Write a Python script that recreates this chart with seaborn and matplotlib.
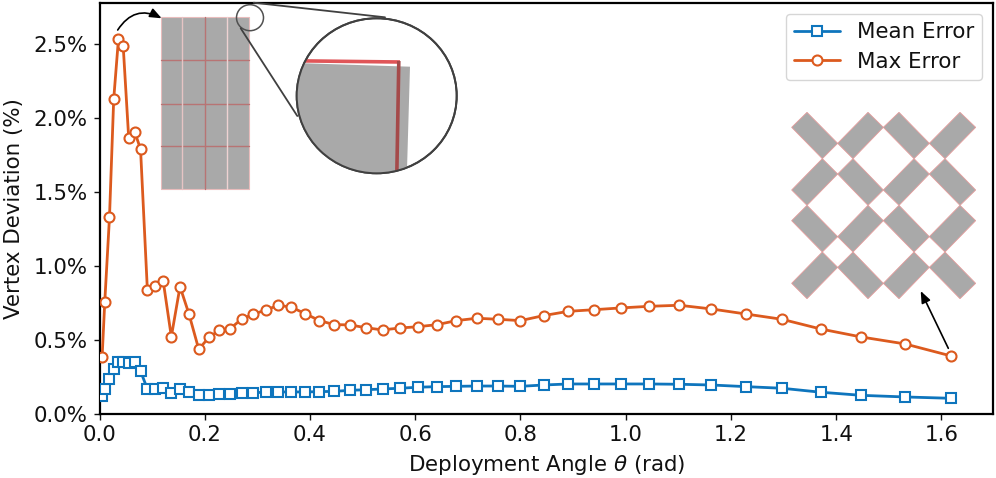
import numpy as np
import pandas as pd
import seaborn as sns
import matplotlib
matplotlib.use('Agg')
import matplotlib.pyplot as plt
from matplotlib.patches import Polygon, Ellipse, FancyArrowPatch, Rectangle
from matplotlib.ticker import PercentFormatter

#########################
#         Data          #
#########################

theta = [0.005, 0.010, 0.019, 0.027, 0.036, 0.045, 0.0555, 0.067, 0.078, 0.091,
         0.106, 0.121, 0.1365, 0.153, 0.170, 0.1886, 0.208, 0.228, 0.2487, 0.270,
         0.292, 0.316, 0.340, 0.3646, 0.391, 0.418, 0.446, 0.476, 0.506, 0.538,
         0.571, 0.606, 0.642, 0.678, 0.717, 0.758, 0.800, 0.844, 0.891, 0.940,
         0.991, 1.045, 1.102, 1.163, 1.228, 1.297, 1.371, 1.448, 1.531, 1.618]

mean_error = [0.121, 0.166, 0.232, 0.299, 0.347, 0.347, 0.342, 0.347, 0.287, 0.166,
              0.166, 0.173, 0.139, 0.168, 0.146, 0.123, 0.127, 0.132, 0.132, 0.139,
              0.141, 0.144, 0.146, 0.146, 0.146, 0.148, 0.150, 0.157, 0.161, 0.166,
              0.171, 0.178, 0.182, 0.184, 0.186, 0.186, 0.184, 0.193, 0.200, 0.200,
              0.200, 0.200, 0.198, 0.193, 0.182, 0.171, 0.144, 0.123, 0.112, 0.103]

max_error = [0.385, 0.755, 1.331, 2.129, 2.535, 2.490, 1.865, 1.907, 1.790, 0.835,
             0.864, 0.898, 0.520, 0.859, 0.674, 0.435, 0.516, 0.564, 0.575, 0.640,
             0.672, 0.701, 0.733, 0.720, 0.676, 0.629, 0.602, 0.600, 0.581, 0.566,
             0.579, 0.588, 0.602, 0.629, 0.645, 0.638, 0.629, 0.663, 0.692, 0.703,
             0.715, 0.726, 0.733, 0.708, 0.674, 0.638, 0.572, 0.518, 0.471, 0.390]

x_ticks = [0.0, 0.2, 0.4, 0.6, 0.8, 1.0, 1.2, 1.4, 1.6]
y_ticks = [0.0, 0.5, 1.0, 1.5, 2.0, 2.5]

BLUE = '#0e75bd'
ORANGE = '#dc5a1e'
GRAY = '#a9a9a9'
PINK = '#e59c9c'
DARK_RED = '#b87474'

#########################
#       Main plot       #
#########################

W, H = 996, 478
FS = 15.4
sns.set_style('ticks', {'text.color': '#111111', 'axes.labelcolor': '#111111',
                        'xtick.color': '#111111', 'ytick.color': '#111111'})
fig = plt.figure(figsize=(W / 100, H / 100), dpi=100)
ax = fig.add_axes([99.5 / W, 1 - 413.5 / H, (993 - 99.5) / W, (413.5 - 3) / H])

df = pd.DataFrame({'theta': theta, 'Mean Error': mean_error, 'Max Error': max_error})
sns.lineplot(data=df, x='theta', y='Mean Error', ax=ax, color=BLUE, marker='s', markersize=6.8,
             markerfacecolor='white', markeredgecolor=BLUE, markeredgewidth=1.5,
             linewidth=2.0, label='Mean Error', zorder=3)
sns.lineplot(data=df, x='theta', y='Max Error', ax=ax, color=ORANGE, marker='o', markersize=7.2,
             markerfacecolor='white', markeredgecolor=ORANGE, markeredgewidth=1.5,
             linewidth=2.0, label='Max Error', zorder=3)

ax.set_xlim(0, 1.698)
ax.set_ylim(0, 2.78)
ax.set_xticks(x_ticks)
ax.set_yticks(y_ticks)
ax.yaxis.set_major_formatter(PercentFormatter(decimals=1))
ax.tick_params(labelsize=FS, length=4, width=1, pad=4.5)
ax.set_xlabel(r'Deployment Angle $\theta$ (rad)', fontsize=FS, labelpad=5.5)
ax.set_ylabel('Vertex Deviation (%)', fontsize=FS, labelpad=7)
for s in ax.spines.values():
    s.set_visible(True)
    s.set_linewidth(1.6)
    s.set_color('black')
ax.legend(loc='upper right', fontsize=FS, handlelength=2.15, handletextpad=0.75,
          borderaxespad=0.5, labelspacing=0.45)

#########################
#  Insets (pixel space) #
#########################

over = fig.add_axes([0, 0, 1, 1], zorder=5)
over.set_xlim(0, W)
over.set_ylim(H, 0)
over.axis('off')

# folded sheet at small angle
over.add_patch(Rectangle((160.7, 17.3), 88, 172, facecolor=GRAY, edgecolor='#e8bcbc', linewidth=0.8))
for y in [60.3, 103.7, 146.4]:
    over.plot([160.7, 248.7], [y, y], color=DARK_RED, linewidth=1.0)
for x, c in [(182.3, '#e6c4c4'), (204.6, DARK_RED), (226.6, '#eed2d2')]:
    over.plot([x, x], [17.3, 189.3], color=c, linewidth=1.0)

# zoom circles
over.add_patch(Ellipse((250, 17.7), 27, 26, fill=False, edgecolor='#505050', linewidth=1.1))
big = Ellipse((376.7, 95.8), 160, 155, facecolor='white', edgecolor='#404040', linewidth=1.4, zorder=4)
over.add_patch(big)
gray = Polygon([(280, 62.5), (410, 66.7), (406.7, 180), (280, 180)], facecolor=GRAY, edgecolor='none', zorder=4.1)
over.add_patch(gray)
gray.set_clip_path(big)
red_h, = over.plot([295, 400], [60.8, 62], color='#e05558', linewidth=2.6, zorder=4.2, solid_capstyle='butt')
red_h.set_clip_path(big)
red_v, = over.plot([398.8, 396.8], [61, 175], color='#a54a4a', linewidth=2.6, zorder=4.3, solid_capstyle='butt')
red_v.set_clip_path(big)
over.add_patch(Ellipse((376.7, 95.8), 160, 155, fill=False, edgecolor='#404040', linewidth=1.4, zorder=4.4))
over.plot([253.7, 385], [2.7, 17.3], color='#404040', linewidth=1.3, zorder=4.4)
over.plot([240.7, 297.3], [28.3, 116], color='#404040', linewidth=1.3, zorder=4.4)

# deployed pattern, corners
tiles = [
    [(65, 112), (111, 67), (203, 160), (157, 206)], [(294, 67), (340, 112), (249, 206), (203, 160)],
    [(387, 67), (478, 160), (432, 206), (340, 112)], [(570, 67), (617, 112), (525, 206), (478, 160)],
    [(157, 206), (203, 252), (111, 346), (65, 300)], [(249, 206), (340, 300), (294, 346), (203, 252)],
    [(432, 206), (478, 252), (387, 346), (340, 300)], [(525, 206), (617, 300), (570, 346), (478, 252)],
    [(111, 346), (203, 440), (157, 486), (65, 392)], [(294, 346), (340, 392), (249, 486), (203, 440)],
    [(387, 346), (478, 440), (432, 486), (340, 392)], [(570, 346), (617, 392), (525, 486), (478, 440)],
    [(157, 486), (203, 532), (111, 626), (65, 580)], [(249, 486), (340, 580), (294, 626), (203, 532)],
    [(432, 486), (478, 532), (387, 626), (340, 580)], [(525, 486), (617, 580), (570, 626), (478, 532)],
]
for t in tiles:
    pts = [(770 + a / 3, 90 + b / 3) for a, b in t]
    over.add_patch(Polygon(pts, closed=True, facecolor=GRAY, edgecolor=PINK, linewidth=0.6))

# arrows
over.add_patch(FancyArrowPatch((117.7, 30), (161.7, 18.3), connectionstyle='arc3,rad=-0.45',
                               arrowstyle='-|>,head_length=0.5,head_width=0.2', mutation_scale=14,
                               color='black', linewidth=1.2, shrinkA=0, shrinkB=0))
over.add_patch(FancyArrowPatch((948.3, 348.3), (920.7, 291),
                               arrowstyle='-|>,head_length=0.5,head_width=0.2', mutation_scale=14,
                               color='black', linewidth=1.2, shrinkA=0, shrinkB=0))

plt.savefig('out.png', dpi=100)
